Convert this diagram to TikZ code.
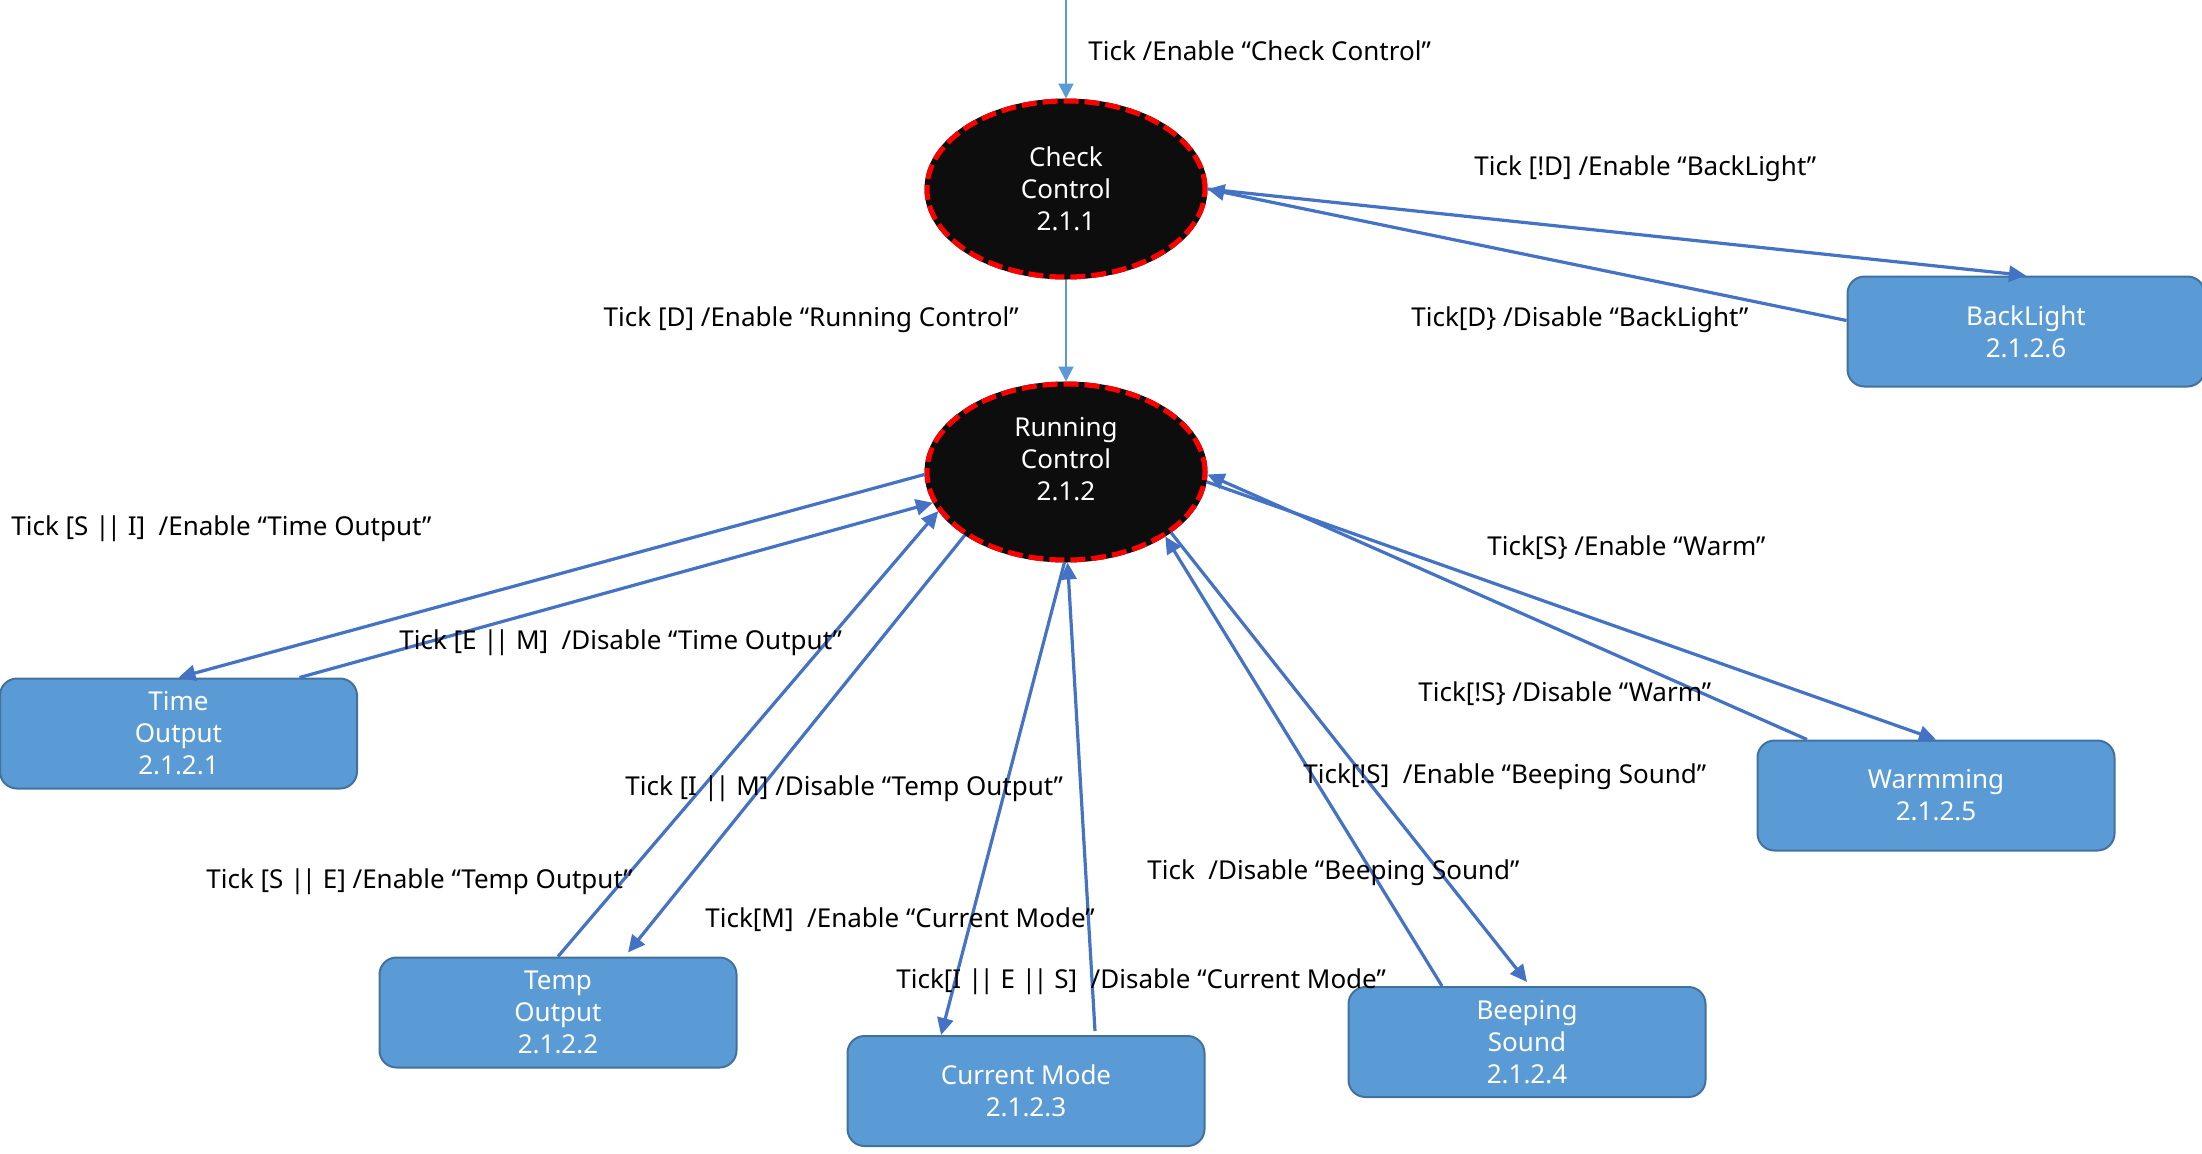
\documentclass[tikz,border=0pt]{standalone}
\usepackage{fontspec}
\setmainfont{Noto Sans}
\usetikzlibrary{arrows.meta,calc,shapes.geometric}
\definecolor{boxfill}{HTML}{5B9BD5}
\definecolor{boxline}{HTML}{41719C}
\definecolor{conn}{HTML}{4472C4}
\definecolor{lconn}{HTML}{5B9BD5}
\definecolor{stfill}{HTML}{0D0D0D}
\newcommand\orbar{|\kern-0.11em|}
\begin{document}
\begin{tikzpicture}[x=0.5pt,y=-0.5pt,
  state/.style={ellipse, draw=red, line width=2.5pt, dash pattern=on 7.5pt off 3pt,
    preaction={draw=stfill, line width=2.5pt, solid},
    fill=stfill, text=white, minimum width=139pt, minimum height=88pt, inner sep=0pt,
    align=center, font=\fontsize{13}{16}\selectfont},
  task/.style={rectangle, rounded corners=8.5pt, draw=boxline, line width=1pt, fill=boxfill,
    text=white, minimum width=178.5pt, minimum height=55pt, inner sep=0pt,
    align=center, font=\fontsize{13}{16}\selectfont},
  tr/.style={draw=conn, line width=1.6pt, -{Triangle[length=8.5pt,width=8pt]}},
  ltr/.style={draw=lconn, line width=1pt, -{Triangle[length=7.5pt,width=7.5pt]}},
  lbl/.style={anchor=west, inner sep=0pt, font=\fontsize{13}{16}\selectfont}
]
\useasboundingbox (0,0) rectangle (2202,1153);

% states
\node[state] (cc) at (1066,189) {Check\\Control\\2.1.1};
\node[state] (rc) at (1066,472) {Running\\Control\\2.1.2\\[-3pt]~};

% tasks
\node[task] (tout) at (178.5,733.5) {Time\\Output\\2.1.2.1};
\node[task] (temp) at (558,1012.5) {Temp\\Output\\2.1.2.2};
\node[task] (cm) at (1026,1091) {Current Mode\\2.1.2.3};
\node[task] (bs) at (1527,1042) {Beeping\\Sound\\2.1.2.4};
\node[task] (warm) at (1936,795.5) {Warmming\\2.1.2.5};
\node[task] (bl) at (2026,331.5) {BackLight\\2.1.2.6};

\coordinate (top) at (1066,0);

% connectors
\draw[ltr] (top) -- (cc.north);
\draw[ltr] (cc.south) -- (rc.north);

\draw[tr] (cc.east) -- (bl.north);
\draw[tr] ($(bl.west)+(0,-11)$) -- (cc.east);

\draw[tr] (rc.181) -- (tout.north);
\draw[tr] ($(tout.north)+(121,0)$) -- (rc.193);

\draw[tr] (temp.north) -- (rc.197);
\draw[tr] (rc.212) -- ($(temp.north)+(70,-4)$);

\draw[tr] (rc.269) -- ($(cm.north)+(-85,0)$);
\draw[tr] ($(cm.north)+(69,-4)$) -- (rc.271);

\draw[tr] ($(bs.north)+(-85,0)$) -- (rc.327);
\draw[tr] (rc.330) -- ($(bs.north)+(0,-4)$);

\draw[tr] ($(warm.north)+(-129,0)$) -- (rc.359);
\draw[tr] (rc.356) -- (warm.north);

% labels
\node[lbl] (l1) at (1088,51) {Tick /Enable “Check Control”};
\node[lbl, anchor=east] (l2) at (1019,320) {Tick [D] /Enable “Running Control”};
\node[lbl] (l3) at (1474,169) {Tick [!D] /Enable “BackLight”};
\node[lbl] (l4) at (1411,320) {Tick[D\} /Disable “BackLight”};
\node[lbl] (l5) at (11,529) {Tick [S \orbar{} I]~ /Enable “Time Output”};
\node[lbl] (l6) at (399,643) {Tick [E \orbar{} M]~ /Disable “Time Output”};
\node[lbl] (l7) at (625,789) {Tick [I \orbar{} M] /Disable “Temp Output”};
\node[lbl] (l8) at (206,882) {Tick [S \orbar{} E] /Enable “Temp Output”};
\node[lbl] (l9) at (705,920) {Tick[M]~ /Enable “Current Mode”};
\node[lbl] (l10) at (896,982) {Tick[I \orbar{} E \orbar{} S]~ /Disable “Current Mode”};
\node[lbl] (l11) at (1303,777) {Tick[!S]~ /Enable “Beeping Sound”};
\node[lbl] (l12) at (1147,873) {Tick~ /Disable “Beeping Sound”};
\node[lbl] (l13) at (1487,548) {Tick[S\} /Enable “Warm”};
\node[lbl] (l14) at (1418,694) {Tick[!S\} /Disable “Warm”};
\end{tikzpicture}
\end{document}
